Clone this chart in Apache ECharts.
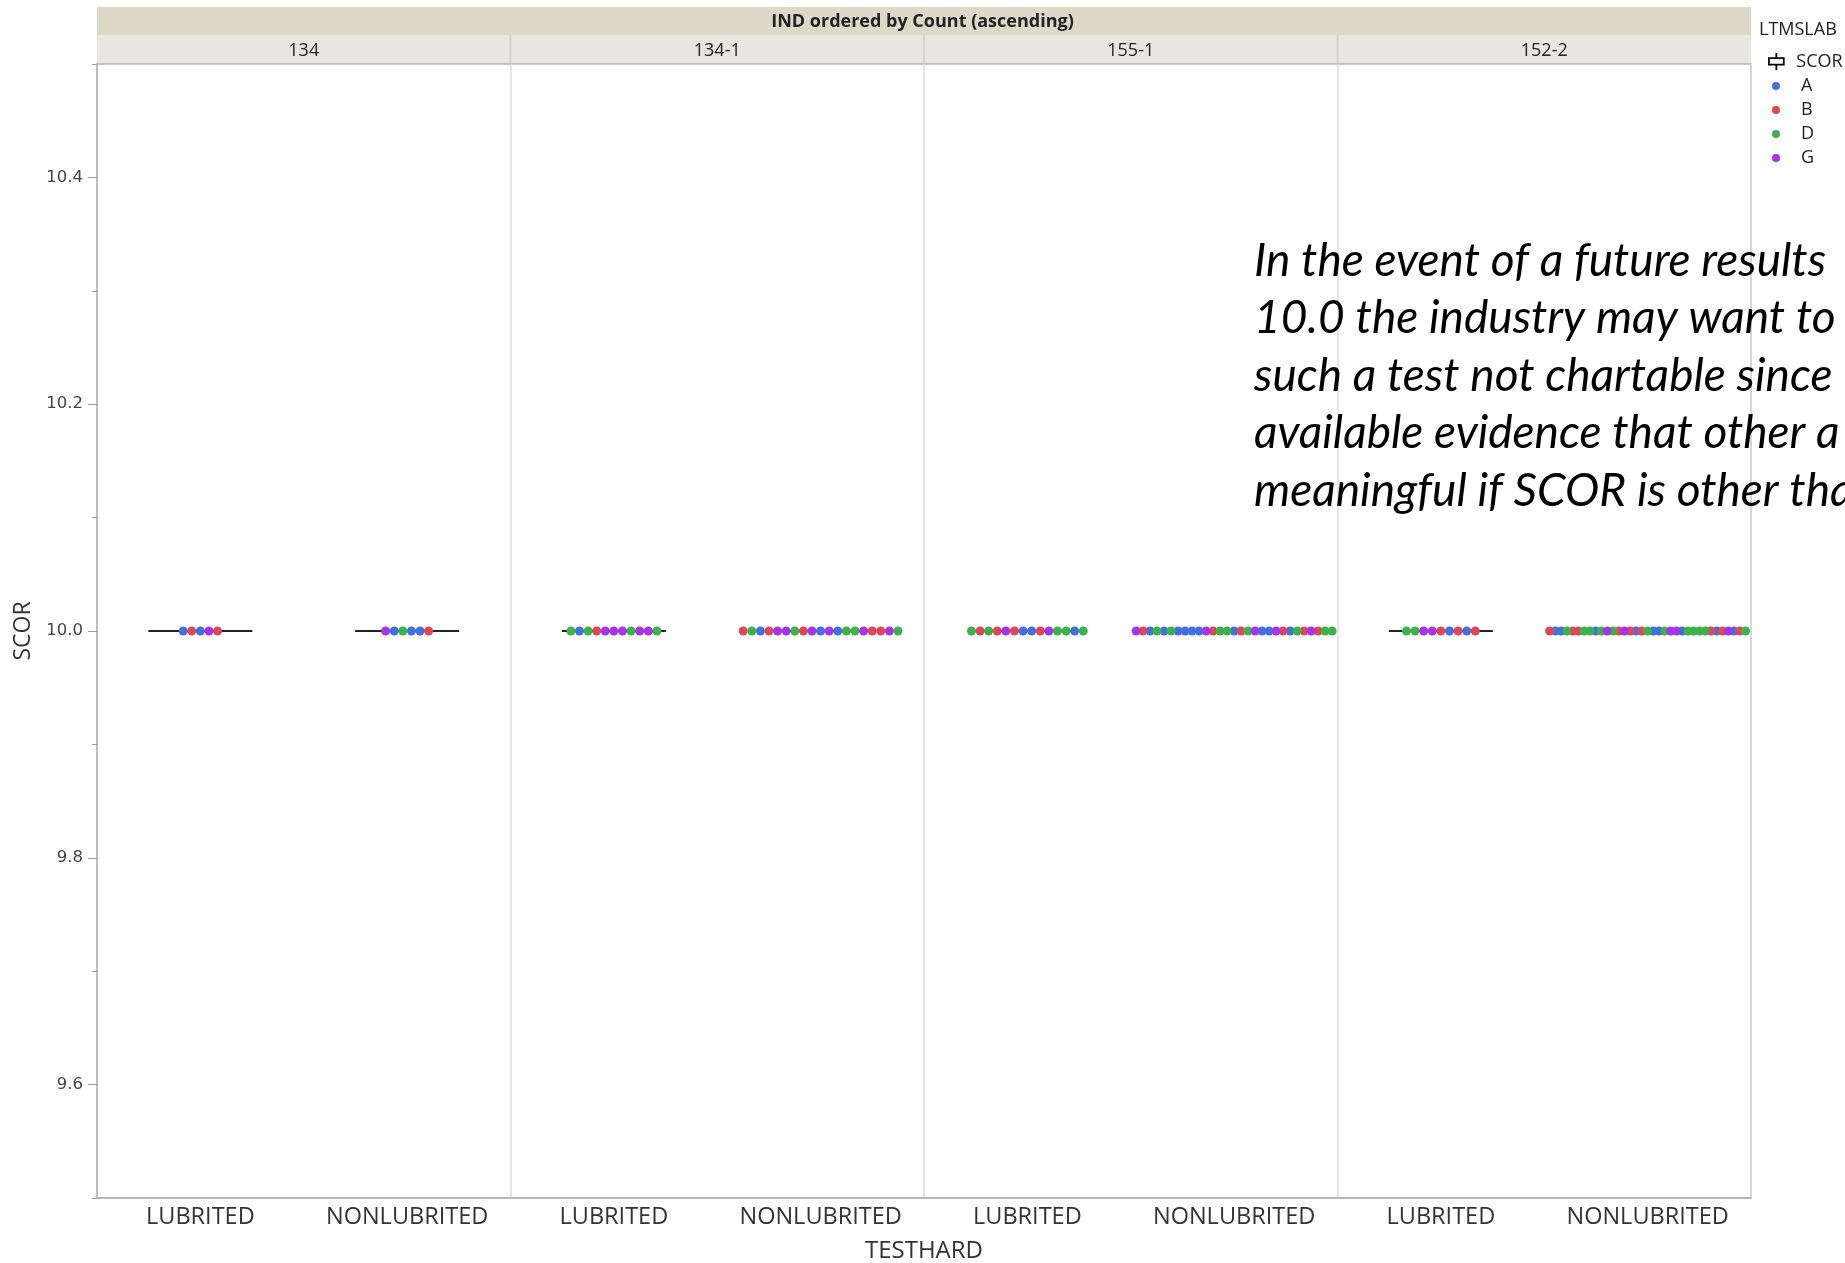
<!DOCTYPE html>
<html>
<head>
<meta charset="utf-8">
<title>SCOR by TESTHARD</title>
<script src="https://cdn.jsdelivr.net/npm/echarts@6/dist/echarts.min.js"></script>
<style>
    html, body { margin: 0; padding: 0; background: #fff; }
    #chart { width: 1845px; height: 1263px; }
</style>
</head>
<body>
<div id="chart"></div>
<script>
var panels = ['134', '134-1', '155-1', '152-2'];
var testhard = ['LUBRITED', 'NONLUBRITED'];
var labs = ['A', 'B', 'D', 'G'];
var labColors = ['#4270e0', '#e04656', '#3cb24a', '#a535e6'];
var yTicks = [9.6, 9.8, 10.0, 10.2, 10.4];
var yMinorTicks = [9.5, 9.7, 9.9, 10.1, 10.3, 10.5];

// LTMSLAB of every test, left to right in each cell
var lab_134_LUB = ['A', 'B', 'A', 'G', 'B'];
var lab_134_NON = ['G', 'A', 'D', 'A', 'A', 'B'];
var lab_1341_LUB = ['D', 'A', 'D', 'B', 'G', 'G', 'G', 'D', 'G', 'G', 'D'];
var lab_1341_NON = ['B', 'D', 'A', 'B', 'G', 'G', 'D', 'B', 'G', 'A', 'G', 'A', 'D', 'D', 'G', 'B', 'B', 'G', 'D'];
var lab_1551_LUB = ['D', 'B', 'D', 'B', 'G', 'B', 'A', 'A', 'B', 'G', 'D', 'D', 'A', 'D'];
var lab_1551_NON = ['G', 'B', 'A', 'D', 'A', 'D', 'A', 'A', 'A', 'A', 'G', 'B', 'D', 'D', 'A', 'B', 'D', 'G', 'A', 'A',
    'G', 'B', 'A', 'D', 'B', 'G', 'B', 'D', 'D'];
var lab_1522_LUB = ['D', 'D', 'G', 'G', 'B', 'A', 'B', 'A', 'B'];
var lab_1522_NON = ['B', 'A', 'A', 'D', 'B', 'B', 'D', 'D', 'A', 'D', 'G', 'D', 'B', 'G', 'B', 'A', 'B', 'D', 'A', 'A',
    'D', 'G', 'G', 'A', 'D', 'D', 'D', 'D', 'B', 'A', 'B', 'G', 'A', 'B', 'D'];

// SCOR of every test (all read at 10.0)
var scor_134_LUB = [10, 10, 10, 10, 10];
var scor_134_NON = [10, 10, 10, 10, 10, 10];
var scor_1341_LUB = [10, 10, 10, 10, 10, 10, 10, 10, 10, 10, 10];
var scor_1341_NON = [10, 10, 10, 10, 10, 10, 10, 10, 10, 10, 10, 10, 10, 10, 10, 10, 10, 10, 10];
var scor_1551_LUB = [10, 10, 10, 10, 10, 10, 10, 10, 10, 10, 10, 10, 10, 10];
var scor_1551_NON = [10, 10, 10, 10, 10, 10, 10, 10, 10, 10, 10, 10, 10, 10, 10, 10, 10, 10, 10, 10,
    10, 10, 10, 10, 10, 10, 10, 10, 10];
var scor_1522_LUB = [10, 10, 10, 10, 10, 10, 10, 10, 10];
var scor_1522_NON = [10, 10, 10, 10, 10, 10, 10, 10, 10, 10, 10, 10, 10, 10, 10, 10, 10, 10, 10, 10,
    10, 10, 10, 10, 10, 10, 10, 10, 10, 10, 10, 10, 10, 10, 10];

var noteLines = [
    'In the event of a future results',
    '10.0 the industry may want to',
    'such a test not chartable since',
    'available evidence that other a',
    'meaningful if SCOR is other tha'
];

var cells = [
    [lab_134_LUB, scor_134_LUB], [lab_134_NON, scor_134_NON],
    [lab_1341_LUB, scor_1341_LUB], [lab_1341_NON, scor_1341_NON],
    [lab_1551_LUB, scor_1551_LUB], [lab_1551_NON, scor_1551_NON],
    [lab_1522_LUB, scor_1522_LUB], [lab_1522_NON, scor_1522_NON]
];

var xCats = [];
panels.forEach(function () {
    testhard.forEach(function (t) { xCats.push(t); });
});

// quantiles for the box of each cell
function quant(sorted, p) {
    var pos = (sorted.length - 1) * p;
    var lo = Math.floor(pos), hi = Math.ceil(pos);
    return sorted[lo] + (sorted[hi] - sorted[lo]) * (pos - lo);
}
var boxData = cells.map(function (c) {
    var s = c[1].slice().sort(function (a, b) { return a - b; });
    return [s[0], quant(s, 0.25), quant(s, 0.5), quant(s, 0.75), s[s.length - 1]];
});

// points spread side by side inside each cell (x in category units)
var cellPx = 1654 / 8;
var pointData = labs.map(function () { return []; });
cells.forEach(function (c, gi) {
    var n = c[0].length;
    var step = (n > 1 ? Math.min(8.6, 196 / (n - 1)) : 0) / cellPx;
    for (var j = 0; j < n; j++) {
        var x = gi + 0.5 + (j - (n - 1) / 2) * step;
        pointData[labs.indexOf(c[0][j])].push([x, c[1][j]]);
    }
});

var myChart = echarts.init(document.getElementById('chart'));

var seriesObj = [{
    name: 'SCOR',
    type: 'boxplot',
    xAxisIndex: 0,
    yAxisIndex: 0,
    boxWidth: [104, 104],
    silent: true,
    z: 2,
    itemStyle: { color: '#fff', borderColor: '#222', borderWidth: 2 },
    data: boxData
}];
labs.forEach(function (l, i) {
    seriesObj.push({
        name: l,
        type: 'scatter',
        xAxisIndex: 1,
        yAxisIndex: 0,
        symbolSize: 9,
        z: 3,
        itemStyle: { color: labColors[i], opacity: 1 },
        data: pointData[i]
    });
});

var font = 'Open Sans';
var graphics = [
    { type: 'rect', z: -10, shape: { x: 97, y: 7, width: 1654, height: 28 }, style: { fill: '#dcd9c9' } },
    { type: 'rect', z: -10, shape: { x: 97, y: 35, width: 1654, height: 29 }, style: { fill: '#e8e7df' } },
    {
        type: 'text', left: 'center', top: 13, z: 5,
        style: { text: 'IND ordered by Count (ascending)', font: 'bold 18px "Open Sans"', fill: '#222' }
    },
    { type: 'text', x: 1759, y: 21, style: { text: 'LTMSLAB', font: '18px "Open Sans"', fill: '#222' } }
];
[1, 2, 3].forEach(function (k) {
    var x = 97 + k * 1654 / 4;
    graphics.push({
        type: 'line', z: -5,
        shape: { x1: x, y1: 35, x2: x, y2: 64 },
        style: { stroke: '#d4d3c6', lineWidth: 2 }
    });
});
noteLines.forEach(function (t, i) {
    graphics.push({
        type: 'text', z: 100, x: 1254, y: 261 + i * 57.5,
        style: { text: t, font: 'italic 46px Lato', fill: '#000', verticalAlign: 'middle' }
    });
});

var option = {
    backgroundColor: '#fff',
    animation: false,
    grid: {
        left: 97, right: 94, top: 64, bottom: 65,
        outerBoundsMode: 'none',
        show: true, borderColor: '#b4b4b4', borderWidth: 1.5
    },
    legend: [{
        data: [{
            name: 'SCOR',
            icon: 'path://M8,0V5M1,5H15V11H1ZM8,11V16',
            itemStyle: { color: '#fff', borderColor: '#000', borderWidth: 1.8 }
        }],
        left: 1768, top: 52,
        padding: 0,
        itemWidth: 30, itemHeight: 17,
        selectedMode: false,
        textStyle: { fontFamily: font, fontSize: 18, color: '#222' }
    }, {
        data: labs,
        orient: 'vertical',
        left: 1772, top: 76,
        padding: 0,
        icon: 'circle',
        itemWidth: 40, itemHeight: 8, itemGap: 4,
        selectedMode: false,
        textStyle: { fontFamily: font, fontSize: 18, lineHeight: 20, color: '#222' }
    }],
    xAxis: [{
        type: 'category',
        data: xCats,
        position: 'bottom',
        axisLine: { lineStyle: { color: '#b4b4b4', width: 1.5 } },
        axisTick: { show: false },
        axisLabel: { interval: 0, color: '#333', fontFamily: font, fontSize: 23.5, margin: 7 },
        name: 'TESTHARD',
        nameLocation: 'middle',
        nameGap: 41,
        nameTextStyle: { color: '#333', fontFamily: font, fontSize: 24 }
    }, {
        type: 'value',
        min: 0, max: 8, interval: 2,
        position: 'top',
        axisLine: { show: false },
        axisTick: { show: false },
        axisLabel: { show: false },
        splitLine: { show: true, lineStyle: { color: '#dcdcdc', width: 1.5 } }
    }, {
        type: 'category',
        data: panels,
        position: 'top',
        axisLine: { show: false },
        axisTick: { show: false },
        axisLabel: { interval: 0, color: '#222', fontFamily: font, fontSize: 18, margin: 4 }
    }],
    yAxis: [{
        type: 'value',
        min: 9.5, max: 10.5, interval: 0.1,
        axisLine: { show: true, lineStyle: { color: '#b4b4b4', width: 1.5 } },
        axisTick: { show: true, length: 9, customValues: yTicks, lineStyle: { color: '#999' } },
        axisLabel: {
            customValues: yTicks,
            formatter: function (v) { return v.toFixed(1); },
            color: '#444', fontFamily: 'DejaVu Sans', fontSize: 16.5, margin: 14
        },
        splitLine: { show: false },
        name: 'SCOR',
        nameLocation: 'middle',
        nameGap: 62,
        nameTextStyle: { color: '#333', fontFamily: font, fontSize: 23 }
    }, {
        type: 'value',
        min: 9.5, max: 10.5, interval: 0.1,
        position: 'left',
        axisLine: { show: false },
        axisTick: { show: true, length: 5, customValues: yMinorTicks, lineStyle: { color: '#999' } },
        axisLabel: { show: false },
        splitLine: { show: false }
    }],
    series: seriesObj,
    graphic: graphics
};

if (option && typeof option === 'object') {
    myChart.setOption(option, true);
}
</script>
</body>
</html>
